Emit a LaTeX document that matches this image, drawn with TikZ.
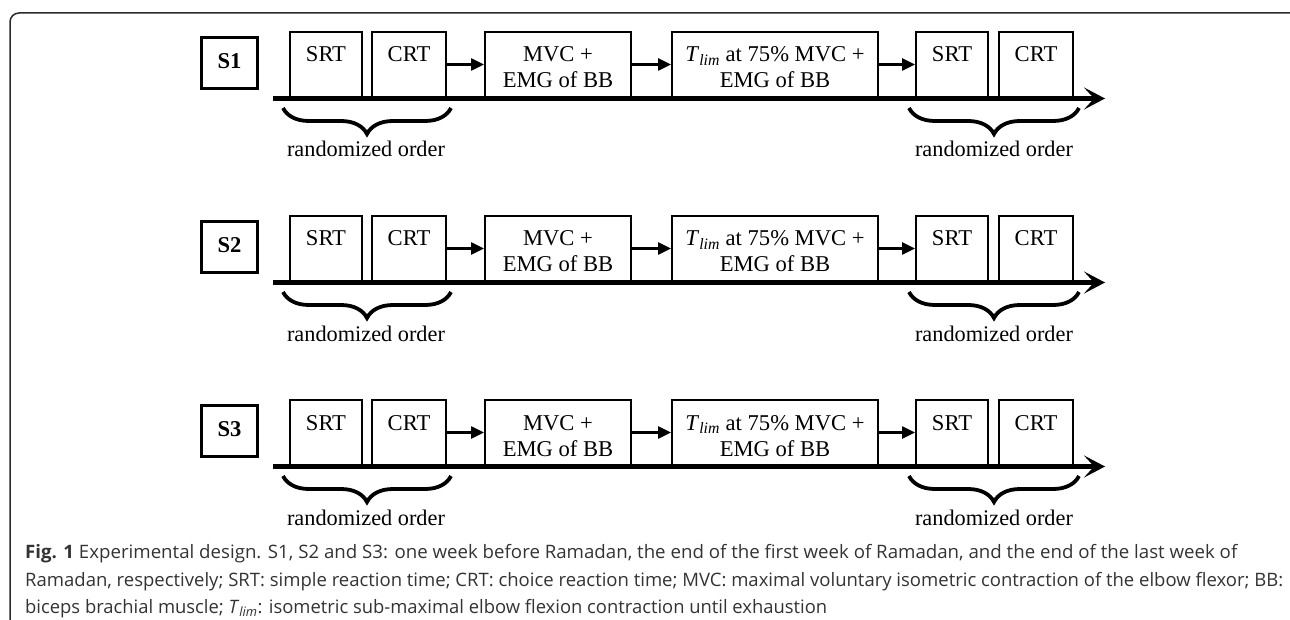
\documentclass[tikz,border=0pt]{standalone}
\usepackage{fontspec}
\setmainfont{Liberation Serif}
\newfontfamily\capfont{Open Sans}
\usetikzlibrary{arrows.meta,decorations.pathreplacing}
\definecolor{capgray}{HTML}{333333}
\definecolor{framegray}{HTML}{2A2A2A}

\begin{document}
\begin{tikzpicture}[x=1pt,y=-1pt,
  box/.style={draw, line width=1.8pt, inner sep=0pt, minimum height=65pt},
  sbox/.style={draw, line width=3.2pt, inner sep=0pt, minimum width=56pt, minimum height=51pt},
  lbl/.style={inner sep=0pt, anchor=base, font=\fontsize{22.6}{26}\selectfont},
  slbl/.style={inner sep=0pt, anchor=base, font=\fontsize{22.6}{26}\selectfont\bfseries},
  link/.style={line width=2.2pt, -{Triangle[length=13pt,width=12pt]}},
  axis/.style={line width=4.6pt, -{Stealth[length=21pt,width=22pt,inset=10pt]}},
  grp/.style={line width=3.8pt, decorate, decoration={brace, amplitude=26pt}},
  note/.style={inner sep=0pt, anchor=base, font=\fontsize{22.3}{26}\selectfont},
  captext/.style={inner sep=0pt, anchor=base west, font=\capfont\fontsize{18.5}{22}\selectfont, text=capgray}
]
\useasboundingbox (0,0) rectangle (1290,620);

% outer frame, open at the right and bottom edges
\begin{scope}
  \clip (0,0) rectangle (1290,620);
  \draw[framegray, line width=1.5pt, rounded corners=9pt] (10,13) rectangle (1300,640);
\end{scope}

\foreach \r/\dy in {1/0, 2/184, 3/368}{
  % session label
  \node[sbox] (s\r) at (229.5, 63+\dy) {};
  \node[slbl] (st\r) at (229.5, 68.5+\dy) {S\r};

  % measurement boxes
  \node[box, minimum width=72pt]  (srtA\r) at (326, 64.5+\dy) {};
  \node[box, minimum width=74pt]  (crtA\r) at (409, 64.5+\dy) {};
  \node[box, minimum width=146pt] (mvc\r)  at (558, 64.5+\dy) {};
  \node[box, minimum width=206pt] (tlim\r) at (775, 64.5+\dy) {};
  \node[box, minimum width=72pt]  (srtB\r) at (952, 64.5+\dy) {};
  \node[box, minimum width=74pt]  (crtB\r) at (1036, 64.5+\dy) {};

  \node[lbl] (srtAt\r) at (326, 62+\dy) {SRT};
  \node[lbl] (crtAt\r) at (409, 62+\dy) {CRT};
  \node[lbl] (mvct\r)  at (558, 62+\dy) {MVC +};
  \node[lbl] (mvcb\r)  at (558, 88+\dy) {EMG of BB};
  \node[lbl] (tlimt\r) at (775, 62+\dy) {\textit{T}\textsubscript{\textit{lim}} at 75\% MVC +};
  \node[lbl] (tlimb\r) at (775, 88+\dy) {EMG of BB};
  \node[lbl] (srtBt\r) at (952, 62+\dy) {SRT};
  \node[lbl] (crtBt\r) at (1036, 62+\dy) {CRT};

  % sequence arrows
  \draw[link] (crtA\r.east) -- (mvc\r.west);
  \draw[link] (mvc\r.east) -- (tlim\r.west);
  \draw[link] (tlim\r.east) -- (srtB\r.west);

  % time axis
  \coordinate (tl\r) at (273, 98.5+\dy);
  \coordinate (tr\r) at (1105, 98.5+\dy);
  \draw[axis] (tl\r) -- (tr\r);

  % braces grouping the reaction-time tests
  \coordinate (bAl\r) at (283, 108+\dy);
  \coordinate (bAr\r) at (451, 108+\dy);
  \coordinate (bBl\r) at (909, 108+\dy);
  \coordinate (bBr\r) at (1079, 108+\dy);
  \draw[grp] (bAr\r) -- (bAl\r);
  \draw[grp] (bBr\r) -- (bBl\r);
  \node[note] (rA\r) at (366, 157+\dy) {randomized order};
  \node[note] (rB\r) at (994, 157+\dy) {randomized order};
}

% caption
\node[captext] (c1) at (25,558) {\resizebox{1212pt}{\height}{\textbf{Fig. 1} Experimental design. S1, S2 and S3: one week before Ramadan, the end of the first week of Ramadan, and the end of the last week of}};
\node[captext] (c2) at (25,586) {\resizebox{1258pt}{\height}{Ramadan, respectively; SRT: simple reaction time; CRT: choice reaction time; MVC: maximal voluntary isometric contraction of the elbow flexor; BB:}};
\node[captext] (c3) at (25,613) {\resizebox{802pt}{\height}{biceps brachial muscle; \textit{T}\textsubscript{\textit{lim}}: isometric sub-maximal elbow flexion contraction until exhaustion}};
\end{tikzpicture}
\end{document}
